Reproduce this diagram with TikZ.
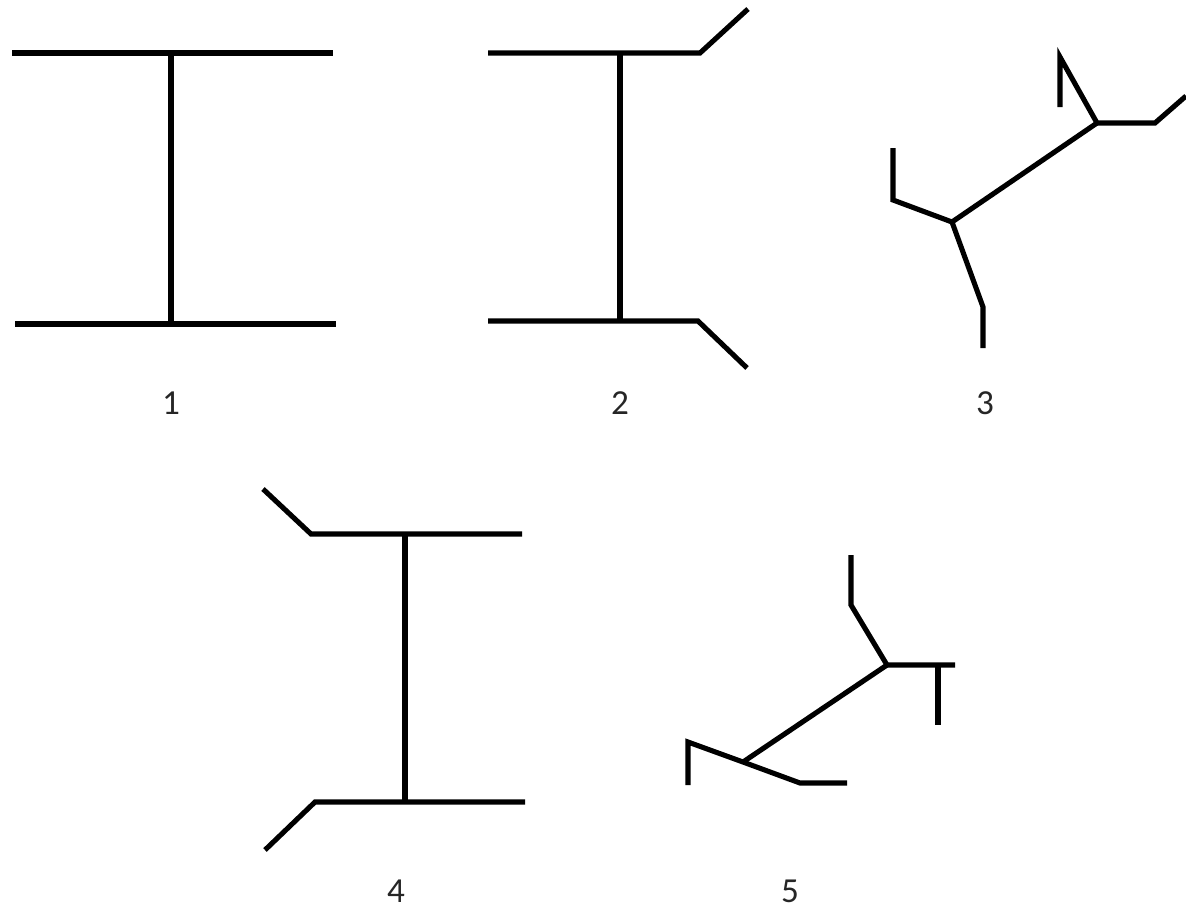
\documentclass[tikz,border=0pt]{standalone}
\usepackage{fontspec}
\setmainfont{Carlito}
\begin{document}
\begin{tikzpicture}[x=0.02cm, y=-0.02cm, line width=2.9pt, line join=miter]
\tikzset{num/.style={font=\fontsize{20}{24}\selectfont, text=black!85, inner sep=0pt}}
\useasboundingbox (0,0) rectangle (1186,916);
% figure 1
\coordinate (a0) at (12,53);
\coordinate (a1) at (171,53);
\coordinate (a2) at (333,53);
\coordinate (a3) at (15,324);
\coordinate (a4) at (171,324);
\coordinate (a5) at (336,324);
\draw[](a0) -- (a2);
\draw[](a3) -- (a5);
\draw[](a1) -- (a4);
\node[num] (n1) at (171,403) {1};
% figure 2
\coordinate (b0) at (488,53);
\coordinate (b1) at (620,53);
\coordinate (b2) at (700,53);
\coordinate (b3) at (748,9);
\coordinate (b4) at (488,321);
\coordinate (b5) at (620,321);
\coordinate (b6) at (698,321);
\coordinate (b7) at (747,368);
\draw[](b0) -- (b2) -- (b3);
\draw[](b4) -- (b6) -- (b7);
\draw[](b1) -- (b5);
\node[num] (n2) at (620,403) {2};
% figure 3
\coordinate (c0) at (1097,123);
\coordinate (c1) at (1155,123);
\coordinate (c2) at (1186,96);
\coordinate (c3) at (1060,57);
\coordinate (c4) at (1060,107);
\coordinate (c5) at (952,222);
\coordinate (c6) at (893,200);
\coordinate (c7) at (893,148);
\coordinate (c8) at (983,307);
\coordinate (c9) at (983,348);
\draw[](c2) -- (c1) -- (c0) -- (c3) -- (c4);
\draw[](c0) -- (c5);
\draw[](c7) -- (c6) -- (c5) -- (c8) -- (c9);
\node[num] (n3) at (985,403) {3};
% figure 4
\coordinate (d0) at (263,489);
\coordinate (d1) at (311,534);
\coordinate (d2) at (405,534);
\coordinate (d3) at (522,534);
\coordinate (d4) at (265,850);
\coordinate (d5) at (315,802);
\coordinate (d6) at (405,802);
\coordinate (d7) at (525,802);
\draw[](d0) -- (d1) -- (d3);
\draw[](d4) -- (d5) -- (d7);
\draw[](d2) -- (d6);
\node[num] (n4) at (396,891) {4};
% figure 5
\coordinate (e0) at (887,665);
\coordinate (e1) at (851,605);
\coordinate (e2) at (851,555);
\coordinate (e3) at (955,665);
\coordinate (e4) at (938,665);
\coordinate (e5) at (938,725);
\coordinate (e6) at (743,762);
\coordinate (e7) at (688,742);
\coordinate (e8) at (688,785);
\coordinate (e9) at (800,783);
\coordinate (e10) at (847,783);
\draw[](e2) -- (e1) -- (e0) -- (e3);
\draw[line width=3.6pt](e4) -- (e5);
\draw[](e0) -- (e6);
\draw[](e8) -- (e7) -- (e6) -- (e9) -- (e10);
\node[num] (n5) at (790,891) {5};
\end{tikzpicture}
\end{document}
